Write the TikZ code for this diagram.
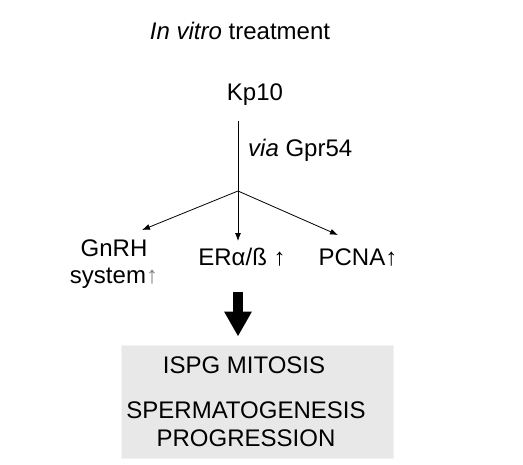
\documentclass[tikz,border=0pt]{standalone}
\usepackage{fontspec}
\setmainfont{Liberation Sans}
\usetikzlibrary{arrows.meta}
\definecolor{boxgray}{HTML}{E8E8E8}
\definecolor{boxedge}{HTML}{F2F2F2}
\tikzset{
  lbl/.style={font=\fontsize{24}{27.5}\selectfont, inner sep=0pt},
  thin arrow/.style={line width=0.8pt, -{Latex[length=8pt,width=6pt]}},
  big arrow/.style={line width=10pt, -{Triangle[length=25pt,width=26pt]}, shorten >=8pt},
  resultbox/.style={fill=boxgray, draw=boxedge, line width=1pt, minimum width=272pt, minimum height=113pt, inner sep=0pt}
}
\begin{document}
\begin{tikzpicture}[x=1pt,y=-1pt]
\useasboundingbox (0,0) rectangle (523,464);
\node[lbl] (title) at (240,31) {\textit{In vitro} treatment};
\node[lbl] (kp) at (255,95) {Kp10};
\node[lbl, anchor=west] (via) at (248,150) {\textit{via} Gpr54};
\coordinate (kpfoot) at (238,121);
\coordinate (br) at (238,191);
\node[lbl, align=center] (gnrh) at (114,264) {GnRH\\system{\color{gray}\textuparrow}};
\node[lbl] (er) at (242,257) {ERα/ß ↑};
\node[lbl] (pcna) at (358,257) {PCNA↑};
\coordinate (gnrhtip) at (142,230);
\coordinate (ertip) at (238,241);
\coordinate (pcnatip) at (338,235);
\draw[line width=0.8pt] (kpfoot) -- (br);
\draw[thin arrow] (br) -- (gnrhtip);
\draw[thin arrow] (br) -- (ertip);
\draw[thin arrow] (br) -- (pcnatip);
\node[resultbox] (box) at (257,401.5) {};
\node[lbl] (mit) at (244,365) {ISPG MITOSIS};
\node[lbl, align=center] (sperm) at (246,424) {SPERMATOGENESIS\\PROGRESSION};
\coordinate (bigstart) at (238,292);
\draw[big arrow] (bigstart) -- (bigstart |- box.north);
\end{tikzpicture}
\end{document}
